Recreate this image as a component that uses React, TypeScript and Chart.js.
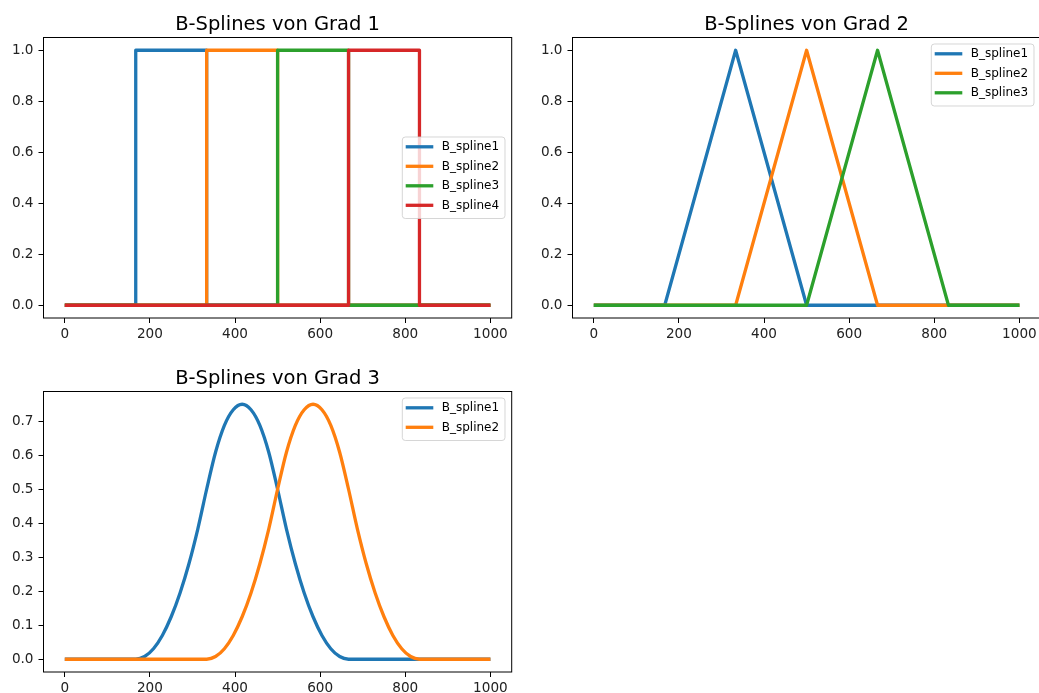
import React, { useEffect, useRef } from "react";
import { Chart, registerables } from "chart.js";

Chart.register(...registerables);

// ---------- data ----------
const xTickValues = [0, 200, 400, 600, 800, 1000];
const yTicksGrad12 = [0, 0.2, 0.4, 0.6, 0.8, 1.0];
const yTicksGrad3 = [0, 0.1, 0.2, 0.3, 0.4, 0.5, 0.6, 0.7];

const seriesLabels = ["B_spline1", "B_spline2", "B_spline3", "B_spline4"];
const seriesColors = ["#1f77b4", "#ff7f0e", "#2ca02c", "#d62728"];

const titles = ["B-Splines von Grad 1", "B-Splines von Grad 2", "B-Splines von Grad 3"];

// Grad 1 (step functions)
const g1s1X = [0, 166.7, 166.7, 333.3, 333.3, 1000];
const g1s1Y = [0, 0, 1, 1, 0, 0];
const g1s2X = [0, 333.3, 333.3, 500, 500, 1000];
const g1s2Y = [0, 0, 1, 1, 0, 0];
const g1s3X = [0, 500, 500, 666.7, 666.7, 1000];
const g1s3Y = [0, 0, 1, 1, 0, 0];
const g1s4X = [0, 666.7, 666.7, 833.3, 833.3, 1000];
const g1s4Y = [0, 0, 1, 1, 0, 0];

// Grad 2 (hat functions)
const g2s1X = [0, 166.7, 333.3, 500, 1000];
const g2s1Y = [0, 0, 1, 0, 0];
const g2s2X = [0, 333.3, 500, 666.7, 1000];
const g2s2Y = [0, 0, 1, 0, 0];
const g2s3X = [0, 500, 666.7, 833.3, 1000];
const g2s3Y = [0, 0, 1, 0, 0];

// Grad 3 (smooth bumps), values read at ~20.8 spacing
const g3X = [
  0, 166.7, 187.5, 208.3, 229.2, 250, 270.8, 291.7, 312.5, 333.3, 354.2, 375, 395.8, 416.7, 437.5, 458.3, 479.2,
  500, 520.8, 541.7, 562.5, 583.3, 604.2, 625, 645.8, 666.7, 687.5, 708.3, 729.2, 750, 770.8, 791.7, 812.5, 833.3, 1000,
];
const g3s1Y = [
  0, 0, 0.008, 0.031, 0.07, 0.125, 0.195, 0.281, 0.383, 0.5, 0.609, 0.688, 0.734, 0.75, 0.734, 0.688, 0.609,
  0.5, 0.383, 0.281, 0.195, 0.125, 0.07, 0.031, 0.008, 0, 0, 0, 0, 0, 0, 0, 0, 0, 0,
];
const g3s2Y = [
  0, 0, 0, 0, 0, 0, 0, 0, 0, 0, 0.008, 0.031, 0.07, 0.125, 0.195, 0.281, 0.383,
  0.5, 0.609, 0.688, 0.734, 0.75, 0.734, 0.688, 0.609, 0.5, 0.383, 0.281, 0.195, 0.125, 0.07, 0.031, 0.008, 0, 0,
];

// ---------- helpers ----------
const FONT = '"DejaVu Sans", "Liberation Sans", sans-serif';

function pts(xs: number[], ys: number[]) {
  return xs.map((x, i) => ({ x, y: ys[i] }));
}

type Series = { xs: number[]; ys: number[]; smooth?: boolean };

const framePlugin = {
  id: "mplFrame",
  afterDatasetsDraw(chart: any) {
    const { ctx, chartArea: ca } = chart;
    ctx.save();
    ctx.strokeStyle = "#000";
    ctx.lineWidth = 1;
    ctx.strokeRect(ca.left, ca.top, ca.right - ca.left, ca.bottom - ca.top);
    ctx.restore();
  },
};

const titlePlugin = {
  id: "mplTitle",
  afterDraw(chart: any, _args: any, opts: any) {
    const { ctx, chartArea: ca } = chart;
    ctx.save();
    ctx.fillStyle = "#000";
    ctx.font = `19.5px ${FONT}`;
    ctx.textAlign = "center";
    ctx.textBaseline = "alphabetic";
    ctx.fillText(opts.text, (ca.left + ca.right) / 2, ca.top - 7.4);
    ctx.restore();
  },
};

const legendPlugin = {
  id: "mplLegend",
  afterDraw(chart: any, _args: any, opts: any) {
    const { ctx, chartArea: ca } = chart;
    const ds = chart.data.datasets;
    const n = ds.length;
    const w = 102.7;
    const h = n * 19.5 + 3.5;
    const x = ca.right - 6.7 - w;
    const y = opts.loc === "center" ? (ca.top + ca.bottom) / 2 - h / 2 : ca.top + 6.5;
    ctx.save();
    ctx.beginPath();
    const r = 3;
    ctx.moveTo(x + r, y);
    ctx.lineTo(x + w - r, y);
    ctx.quadraticCurveTo(x + w, y, x + w, y + r);
    ctx.lineTo(x + w, y + h - r);
    ctx.quadraticCurveTo(x + w, y + h, x + w - r, y + h);
    ctx.lineTo(x + r, y + h);
    ctx.quadraticCurveTo(x, y + h, x, y + h - r);
    ctx.lineTo(x, y + r);
    ctx.quadraticCurveTo(x, y, x + r, y);
    ctx.closePath();
    ctx.fillStyle = "rgba(255,255,255,0.8)";
    ctx.fill();
    ctx.strokeStyle = "rgba(204,204,204,0.8)";
    ctx.lineWidth = 1;
    ctx.stroke();
    for (let i = 0; i < n; i++) {
      const yy = y + 9.8 + i * 19.5;
      ctx.strokeStyle = ds[i].borderColor;
      ctx.lineWidth = 3.3;
      ctx.beginPath();
      ctx.moveTo(x + 3.4, yy);
      ctx.lineTo(x + 31, yy);
      ctx.stroke();
      ctx.fillStyle = "#000";
      ctx.font = `12px ${FONT}`;
      ctx.textBaseline = "middle";
      ctx.textAlign = "left";
      ctx.fillText(ds[i].label, x + 39.4, yy + 0.5);
    }
    ctx.restore();
  },
};

type PanelProps = {
  left: number;
  top: number;
  title: string;
  series: Series[];
  yMin: number;
  yMax: number;
  yTicks: number[];
  legendLoc: "center" | "upper";
};

function Panel(props: PanelProps) {
  const ref = useRef<HTMLCanvasElement | null>(null);
  useEffect(() => {
    if (!ref.current) return;
    const n = props.series.length;
    const chart = new Chart(ref.current, {
      type: "line",
      data: {
        datasets: props.series.map((s, i) => ({
          label: seriesLabels[i],
          data: pts(s.xs, s.ys),
          borderColor: seriesColors[i],
          backgroundColor: seriesColors[i],
          borderWidth: 3.3,
          pointRadius: 0,
          fill: false,
          tension: 0,
          order: n - i,
          cubicInterpolationMode: s.smooth ? "monotone" : "default",
          borderJoinStyle: "round",
        })),
      },
      options: {
        responsive: false,
        animation: false,
        devicePixelRatio: 1,
        layout: { padding: { left: 0, right: 8.3, top: 37.5, bottom: 0 } },
        plugins: {
          legend: { display: false },
          tooltip: { enabled: false },
          title: { display: false },
          mplTitle: { text: props.title },
          mplLegend: { loc: props.legendLoc },
        } as any,
        scales: {
          x: {
            type: "linear",
            min: -50,
            max: 1050,
            border: { display: false },
            grid: { display: true, drawOnChartArea: false, drawTicks: true, tickLength: 5, color: "#000", lineWidth: 1 },
            ticks: {
              color: "#222",
              font: { family: FONT, size: 13.6 },
              padding: 3,
              maxRotation: 0,
              callback: (v: any) => String(Math.round(Number(v))),
            },
            afterBuildTicks: (scale: any) => {
              scale.ticks = xTickValues.map((v) => ({ value: v }));
            },
            afterFit: (scale: any) => {
              scale.height = 27;
            },
          },
          y: {
            type: "linear",
            min: props.yMin,
            max: props.yMax,
            border: { display: false },
            grid: { display: true, drawOnChartArea: false, drawTicks: true, tickLength: 5, color: "#000", lineWidth: 1 },
            ticks: {
              color: "#222",
              font: { family: FONT, size: 13.6 },
              padding: 5,
              callback: (v: any) => Number(v).toFixed(1),
            },
            afterBuildTicks: (scale: any) => {
              scale.ticks = props.yTicks.map((v) => ({ value: v }));
            },
            afterFit: (scale: any) => {
              scale.width = 43.5;
            },
          },
        },
      } as any,
      plugins: [framePlugin, legendPlugin, titlePlugin],
    });
    return () => chart.destroy();
  }, []);
  return (
    <canvas
      ref={ref}
      width={520}
      height={345}
      style={{ position: "absolute", left: props.left, top: props.top, width: 520, height: 345 }}
    />
  );
}

export default function App() {
  return (
    <div
      style={{
        position: "absolute",
        left: 0,
        top: 0,
        width: 1039,
        height: 693,
        overflow: "hidden",
        background: "#fff",
      }}
    >
      <Panel
        left={0}
        top={0}
        title={titles[0]}
        series={[
          { xs: g1s1X, ys: g1s1Y },
          { xs: g1s2X, ys: g1s2Y },
          { xs: g1s3X, ys: g1s3Y },
          { xs: g1s4X, ys: g1s4Y },
        ]}
        yMin={-0.05}
        yMax={1.05}
        yTicks={yTicksGrad12}
        legendLoc="center"
      />
      <Panel
        left={529}
        top={0}
        title={titles[1]}
        series={[
          { xs: g2s1X, ys: g2s1Y },
          { xs: g2s2X, ys: g2s2Y },
          { xs: g2s3X, ys: g2s3Y },
        ]}
        yMin={-0.05}
        yMax={1.05}
        yTicks={yTicksGrad12}
        legendLoc="upper"
      />
      <Panel
        left={0}
        top={354}
        title={titles[2]}
        series={[
          { xs: g3X, ys: g3s1Y, smooth: true },
          { xs: g3X, ys: g3s2Y, smooth: true },
        ]}
        yMin={-0.0375}
        yMax={0.7875}
        yTicks={yTicksGrad3}
        legendLoc="upper"
      />
    </div>
  );
}
